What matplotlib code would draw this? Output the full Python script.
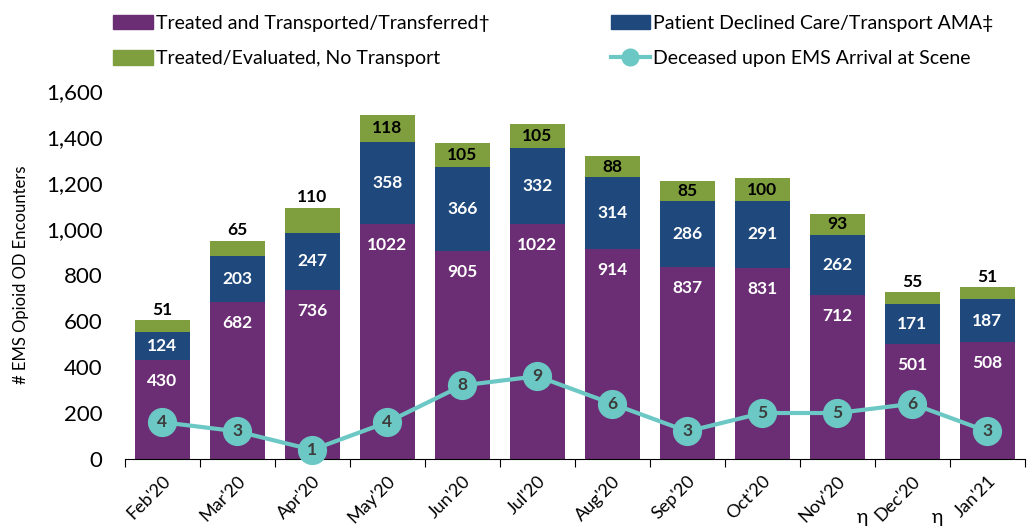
import matplotlib
matplotlib.use("Agg")
import matplotlib.pyplot as plt
from matplotlib.lines import Line2D
from matplotlib.patches import Patch
from matplotlib.transforms import ScaledTranslation
import numpy as np

plt.rcParams['font.family'] = ['Lato', 'DejaVu Sans']

months = ["Feb'20", "Mar'20", "Apr'20", "May'20", "Jun'20", "Jul'20", "Aug'20",
          "Sep'20", "Oct'20", "Nov'20", "Dec'20", "Jan'21"]
flagged = [False] * 10 + [True, True]
transported = [430, 682, 736, 1022, 905, 1022, 914, 837, 831, 712, 501, 508]
declined = [124, 203, 247, 358, 366, 332, 314, 286, 291, 262, 171, 187]
no_transport = [51, 65, 110, 118, 105, 105, 88, 85, 100, 93, 55, 51]
deceased = [4, 3, 1, 4, 8, 9, 6, 3, 5, 5, 6, 3]

c_purple = "#6B2D73"
c_navy = "#1F497D"
c_green = "#7F9F3E"
c_teal = "#6CC8C4"

fig = plt.figure(figsize=(10.32, 5.30), dpi=100)
ax = fig.add_axes([0.121, 0.134, 0.872, 0.694])

x = np.arange(len(months))
w = 0.73
t = np.array(transported)
d = np.array(declined)
n = np.array(no_transport)
ax.bar(x, t, w, color=c_purple, zorder=2)
ax.bar(x, d, w, bottom=t, color=c_navy, zorder=2)
ax.bar(x, n, w, bottom=t + d, color=c_green, zorder=2)

for i in range(len(x)):
    ax.text(x[i], t[i] - 92, str(t[i]), ha='center', va='center', color='white',
            fontsize=12.5, fontweight='bold', zorder=3)
    ax.text(x[i], t[i] + d[i] / 2, str(d[i]), ha='center', va='center', color='white',
            fontsize=12.5, fontweight='bold', zorder=3)
    if n[i] >= 85 and i != 2:
        ax.text(x[i], t[i] + d[i] + n[i] / 2, str(n[i]), ha='center', va='center',
                color='black', fontsize=12.5, fontweight='bold', zorder=3)
    else:
        ax.text(x[i], t[i] + d[i] + n[i] + 10, str(n[i]), ha='center', va='bottom',
                color='black', fontsize=12.5, fontweight='bold', zorder=3)

ax.set_xlim(-0.5, len(x) - 0.5)
ax.set_ylim(0, 1600)
ax.set_yticks(np.arange(0, 1601, 200))
ax.set_yticklabels([f"{v:,}" for v in range(0, 1601, 200)], fontsize=16)
ax.set_xticks(np.arange(-0.5, len(x), 1), minor=False)
ax.set_xticklabels([])
ax.set_xticks(x, minor=True)
ax.set_xticklabels(months, minor=True, rotation=45, ha='right', va='top',
                   rotation_mode='anchor', fontsize=13)
off = ScaledTranslation(6 / 72, 0, fig.dpi_scale_trans)
for lab in ax.get_xticklabels(minor=True):
    lab.set_transform(lab.get_transform() + off)
ax.tick_params(axis='x', which='minor', length=0, pad=10)
ax.tick_params(axis='x', which='major', length=6, direction='out', color='black')
ax.tick_params(axis='y', length=0, pad=16)
for s in ['top', 'right', 'left']:
    ax.spines[s].set_visible(False)
ax.spines['bottom'].set_color('black')
ax.set_ylabel("# EMS Opioid OD Encounters", fontsize=12)
ax.yaxis.set_label_coords(-0.106, 0.5)

# η markers beside the flagged month labels
for i in range(len(x)):
    if flagged[i]:
        ax.annotate("η", xy=(x[i], 0), xycoords='data', xytext=(-36, -42),
                    textcoords='offset points', ha='center', va='center', fontsize=14)

ax2 = ax.twinx()
ax2.set_ylim(0, 40)
ax2.axis('off')
ax2.plot(x, deceased, color=c_teal, lw=3, marker='o', markersize=20, zorder=5, clip_on=False)
for i in range(len(x)):
    ax2.text(x[i], deceased[i], str(deceased[i]), ha='center', va='center',
             color='#3C3C3C', fontsize=12.5, fontweight='bold', zorder=6)

handles = [Patch(color=c_purple), Patch(color=c_green), Patch(color=c_navy),
           Line2D([0], [0], color=c_teal, lw=3, marker='o', markersize=12)]
labels = ["Treated and Transported/Transferred†", "Treated/Evaluated, No Transport",
          "Patient Declined Care/Transport AMA‡", "Deceased upon EMS Arrival at Scene"]
fig.legend(handles, labels, ncol=2, loc='upper left', bbox_to_anchor=(0.093, 1.005),
           frameon=False, fontsize=14, handlelength=2.05, handleheight=0.75,
           columnspacing=6.2, labelspacing=0.95, handletextpad=0.15)

fig.savefig("out.png", dpi=100)
